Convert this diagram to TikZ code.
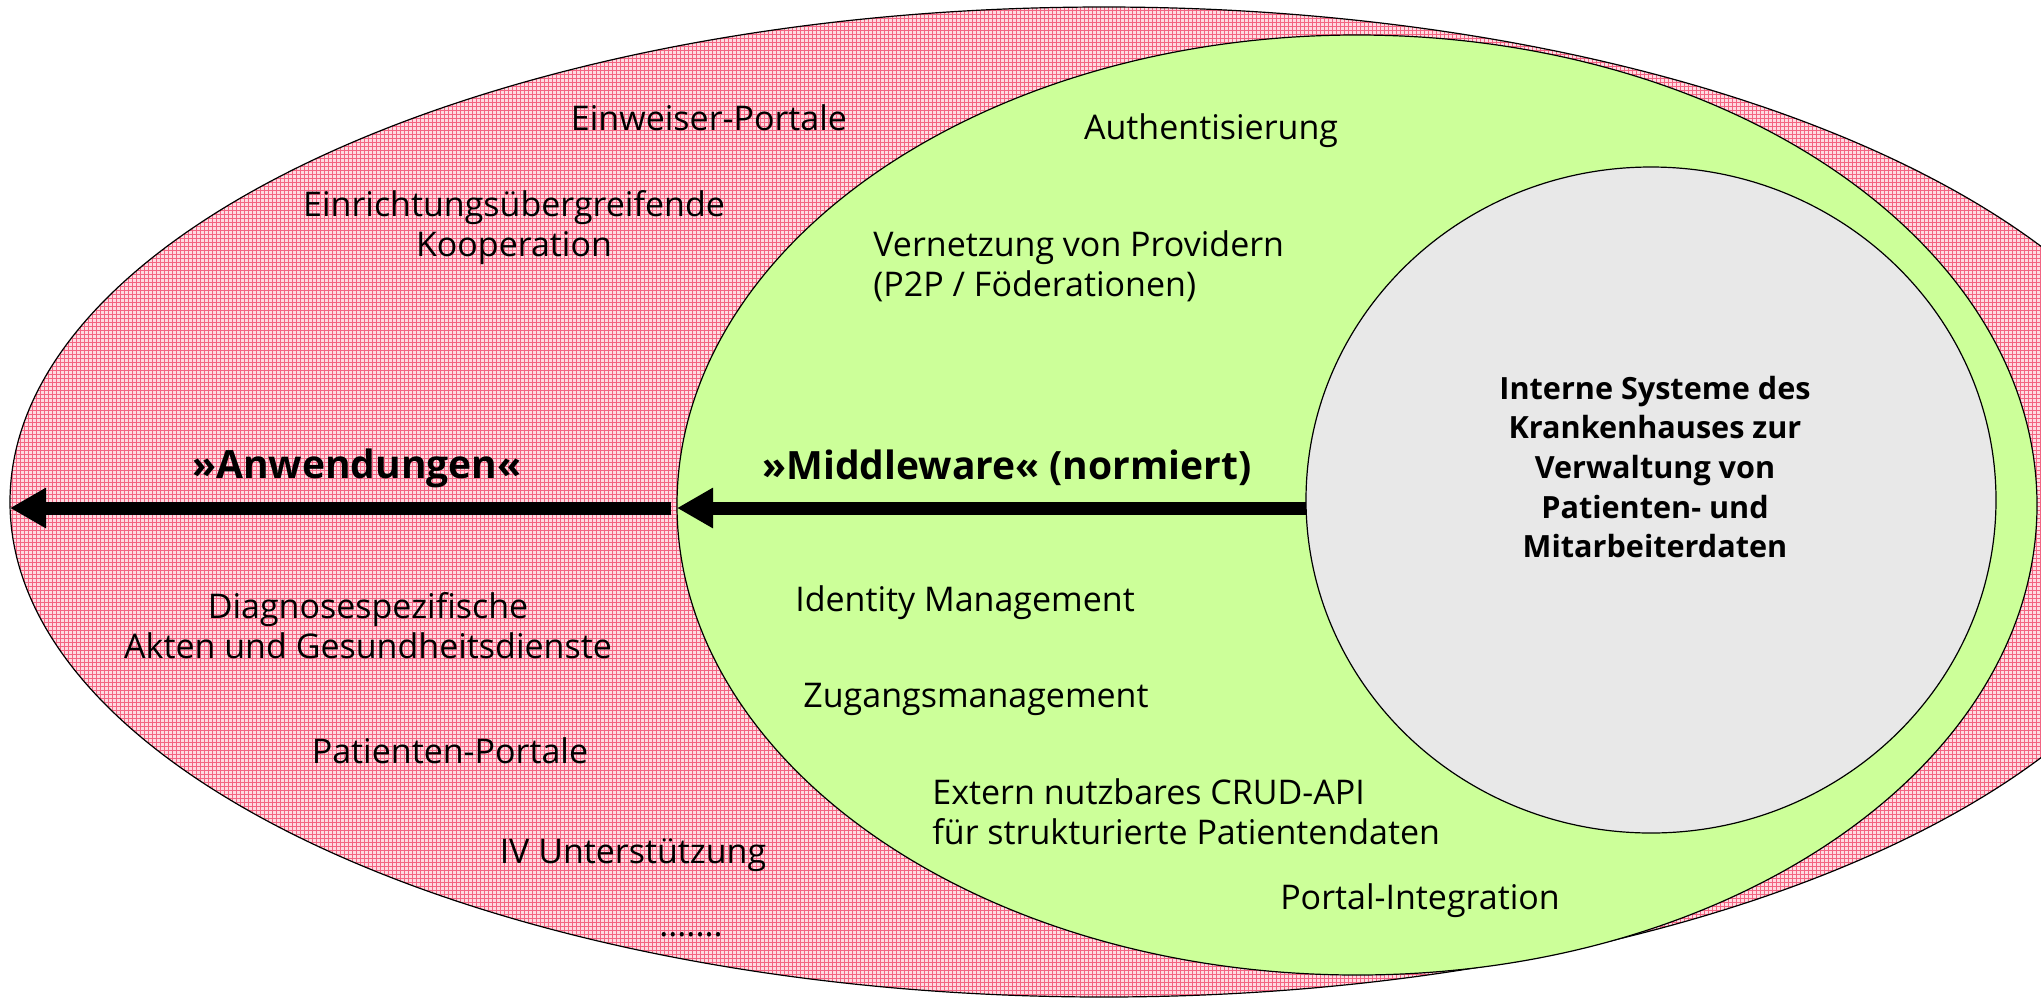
\documentclass[tikz,border=0pt]{standalone}
\usepackage{fontspec}
\setmainfont{Open Sans}
\usetikzlibrary{arrows.meta,shapes.geometric,calc}
\definecolor{pinkfill}{RGB}{254,218,225}
\definecolor{pinkline}{RGB}{243,100,130}
\definecolor{greenfill}{RGB}{204,255,153}
\definecolor{grayfill}{RGB}{232,232,232}
\begin{document}
\begin{tikzpicture}[x=0.5pt,y=-0.5pt,
  ell/.style={ellipse, draw=black, line width=0.6pt, inner sep=0pt, outer sep=0pt},
  txt/.style={font=\fontsize{17}{20}\selectfont, align=center, inner sep=0pt},
  txtl/.style={font=\fontsize{17}{20}\selectfont, align=left, inner sep=0pt, anchor=west},
  inner/.style={font=\fontsize{15.3}{19.8}\selectfont\bfseries, align=center, inner sep=0pt},
  big/.style={font=\fontsize{19.5}{24}\selectfont\bfseries, inner sep=0pt, anchor=base},
  arr/.style={line width=6.5pt, -{Triangle[length=18pt,width=19pt]}}]
\useasboundingbox (0,0) rectangle (2041,998);
\clip (0,0) rectangle (2041,998);
% outer (pink plaid) ellipse
\node[ell, fill=pinkfill, minimum width=1094pt, minimum height=495pt,
  path picture={
    \foreach \i in {-1100,-1096,...,1100} {\draw[pinkline, line width=0.5pt] (\i,-500) -- (\i,500);}
    \foreach \j in {-500,-496,...,500} {\draw[pinkline, line width=0.5pt] (-1100,\j) -- (1100,\j);}
  }] (outer) at (1104,502) {};
% middleware ellipse
\node[ell, fill=greenfill, minimum width=680pt, minimum height=470pt] (green) at (1357,505) {};
% internal systems ellipse
\node[ell, fill=grayfill, minimum width=345pt, minimum height=333pt] (gray) at (1651,500) {};
% arrows
\draw[arr] ($(gray.west)+(0,8)$) -- ($(green.west)+(0,3)$);
\draw[arr] ($(green.west)+(-6,3)$) -- ($(outer.west)+(0,6)$);
% Anwendungen texts
\node[txt] (t1) at (709,118) {Einweiser-Portale};
\node[txt] (t2) at (514,228) {Einrichtungsübergreifende\\Kooperation};
\node[big] (t3) at (357,478) {»Anwendungen«};
\node[txt] (t4) at (368,626) {Diagnosespezifische\\Akten und Gesundheitsdienste};
\node[txt] (t5) at (450,751) {Patienten-Portale};
\node[txt] (t6) at (633,855) {IV Unterstützung};
\node[txt, anchor=base] (t7) at (691,936) {.......};
% Middleware texts
\node[txt] (m1) at (1211,131) {Authentisierung};
\node[txtl] (m2) at (873,266) {Vernetzung von Providern\\(P2P / Föderationen)};
\node[big] (m3) at (1007,479) {»Middleware« (normiert)};
\node[txt] (m4) at (965,603) {Identity Management};
\node[txt] (m5) at (976,699) {Zugangsmanagement};
\node[txtl] (m6) at (932,812) {Extern nutzbares CRUD-API\\für strukturierte Patientendaten};
\node[txt] (m7) at (1420,901) {Portal-Integration};
% internal systems text
\node[inner] (g1) at (1655,467) {Interne Systeme des\\Krankenhauses zur\\Verwaltung von\\Patienten- und\\Mitarbeiterdaten};
\end{tikzpicture}
\end{document}
